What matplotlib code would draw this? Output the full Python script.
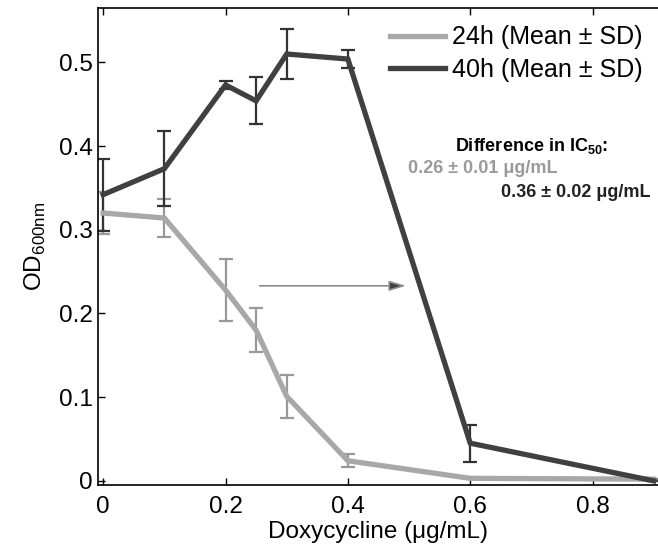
import numpy as np
import matplotlib
matplotlib.use("Agg")
import matplotlib.pyplot as plt

plt.rcParams["font.family"] = ["Liberation Sans", "DejaVu Sans"]
plt.rcParams["mathtext.fontset"] = "custom"
plt.rcParams["mathtext.rm"] = "Liberation Sans"
plt.rcParams["mathtext.bf"] = "Liberation Sans:bold"

# doxycycline concentrations (ug/mL)
dose = [0.0, 0.1, 0.2, 0.25, 0.3, 0.4, 0.6, 0.9]

od_24h = [0.320, 0.314, 0.228, 0.180, 0.101, 0.024, 0.003, 0.002]
sd_24h = [0.025, 0.023, 0.037, 0.026, 0.026, 0.008, 0.0, 0.0]

od_40h = [0.342, 0.373, 0.473, 0.454, 0.510, 0.504, 0.045, 0.0]
sd_40h = [0.043, 0.045, 0.005, 0.028, 0.030, 0.011, 0.022, 0.0]

labels = ["24h (Mean ± SD)", "40h (Mean ± SD)"]
ic50_shift = [0.256, 0.495]   # arrow from / to (x)
ic50_level = 0.233

light = "#a8a8a8"
dark = "#404040"

fig = plt.figure(figsize=(6.58, 5.47), dpi=100)
ax = fig.add_axes([0.1494, 0.1133, 0.8506, 0.8721])

# error bars first, lines on top
ax.errorbar(dose, od_24h, yerr=sd_24h, fmt="none", ecolor="#999999",
            elinewidth=1.6, capsize=5, capthick=1.6, zorder=2)
ax.errorbar(dose, od_40h, yerr=sd_40h, fmt="none", ecolor="#333333",
            elinewidth=1.6, capsize=5, capthick=1.6, zorder=2)
ax.plot(dose, od_24h, color=light, lw=3.8, label=labels[0], zorder=3,
        solid_joinstyle="miter")
ax.plot(dose, od_40h, color=dark, lw=3.8, label=labels[1], zorder=3,
        solid_joinstyle="miter")

ax.annotate("", xy=(ic50_shift[1], ic50_level), xytext=(ic50_shift[0], ic50_level),
            arrowprops=dict(arrowstyle="-|>,head_length=1.0,head_width=0.3",
                            lw=1.2, ec="#8c8c8c", fc="#404040",
                            shrinkA=0, shrinkB=0))

ax.text(0.575, 0.400, "Difference in IC$_{\\mathbf{50}}$:", fontsize=13,
        fontweight="bold", ha="left", va="center")
ax.text(0.498, 0.373, "0.26 ± 0.01 μg/mL", fontsize=13,
        fontweight="bold", color="#9a9a9a", ha="left", va="center")
ax.text(0.894, 0.345, "0.36 ± 0.02 μg/mL", fontsize=13,
        fontweight="bold", color="#222222", ha="right", va="center")

ax.set_xlim(-0.008, 0.907)
ax.set_ylim(-0.005, 0.565)
ax.set_xticks([0, 0.2, 0.4, 0.6, 0.8])
ax.set_xticklabels(["0", "0.2", "0.4", "0.6", "0.8"])
ax.set_yticks([0, 0.1, 0.2, 0.3, 0.4, 0.5])
ax.set_yticklabels(["0", "0.1", "0.2", "0.3", "0.4", "0.5"])
ax.tick_params(direction="in", length=5, width=1, labelsize=17.5, top=True)
ax.tick_params(axis="x", pad=8)
ax.tick_params(axis="y", pad=4)
ax.spines["right"].set_visible(False)
for s in ["left", "top", "bottom"]:
    ax.spines[s].set_linewidth(1.2)

ax.set_xlabel("Doxycycline (μg/mL)", fontsize=17.5, labelpad=2)
ax.set_ylabel("OD$_{\\mathrm{600nm}}$", fontsize=17.5, labelpad=8)

ax.legend(loc="upper right", bbox_to_anchor=(1.0, 0.995), frameon=False,
          fontsize=18, handlelength=2.2, handletextpad=0.3,
          labelspacing=0.35, borderaxespad=0.2)

fig.savefig("out.png", dpi=100)
